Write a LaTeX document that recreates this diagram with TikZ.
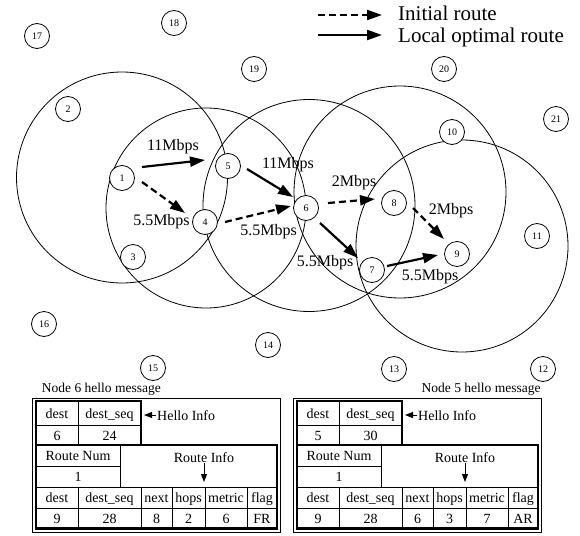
\documentclass[tikz,border=0pt]{standalone}
\usepackage{fontspec}
\setmainfont{Liberation Serif}
\usetikzlibrary{arrows.meta,calc}

\tikzset{
  host/.style={circle,draw,fill=white,line width=0.8pt,minimum size=25pt,inner sep=0pt,font=\fontsize{10}{10}\selectfont},
  rangering/.style={line width=0.8pt},
  optroute/.style={line width=2.2pt,-{Triangle[length=15pt,width=10pt]}},
  initroute/.style={optroute,dash pattern=on 7pt off 4pt},
  rate/.style={font=\fontsize{16}{16}\selectfont,inner sep=0pt},
  legendtext/.style={font=\fontsize{21}{21}\selectfont,inner sep=0pt,anchor=base west},
  cell/.style={font=\fontsize{14}{14}\selectfont,inner sep=0pt,anchor=base},
  thickbox/.style={line width=2.5pt},
  thinline/.style={line width=0.8pt},
  pointer/.style={line width=1pt,-{Triangle[length=8pt,width=6pt]}}
}

\begin{document}
\begin{tikzpicture}[x=1pt,y=-1pt]
\useasboundingbox (0,0) rectangle (580,535);

% transmission ranges
\draw[rangering] (122,177.5) circle (105.5pt);
\draw[rangering] (206,208) circle (100pt);
\draw[rangering] (309,205.5) circle (106pt);
\draw[rangering] (400,192) circle (106pt);
\draw[rangering] (462,246) circle (106pt);

% hosts
\node[host] (n1) at (122,178) {1};
\node[host] (n2) at (68,109) {2};
\node[host] (n3) at (133,257) {3};
\node[host] (n4) at (205,222) {4};
\node[host] (n5) at (228,166) {5};
\node[host] (n6) at (306,208) {6};
\node[host] (n7) at (372,270) {7};
\node[host] (n8) at (394,203) {8};
\node[host] (n9) at (457,254) {9};
\node[host] (n10) at (452,132) {10};
\node[host] (n11) at (537,236) {11};
\node[host] (n12) at (543,369) {12};
\node[host] (n13) at (394,369) {13};
\node[host] (n14) at (268,345) {14};
\node[host] (n15) at (153,368) {15};
\node[host] (n16) at (44,324) {16};
\node[host] (n17) at (37,36) {17};
\node[host] (n18) at (174,23) {18};
\node[host] (n19) at (254,69) {19};
\node[host] (n20) at (444,69) {20};
\node[host] (n21) at (556,119) {21};

% routes
\draw[optroute] ($(n1)+(20,-11)$) -- ($(n5)+(-23,-6)$);
\draw[initroute] ($(n1)+(20,4)$) -- ($(n4)+(-20,-9)$);
\draw[optroute] ($(n5)+(19,3)$) -- ($(n6)+(-13,-11)$);
\draw[initroute] ($(n4)+(20,0)$) -- ($(n6)+(-15,-2)$);
\draw[initroute] ($(n6)+(22,-5)$) -- ($(n8)+(-19,-4)$);
\draw[optroute] ($(n6)+(14,15)$) -- ($(n7)+(-14,-12)$);
\draw[initroute] ($(n8)+(19,5)$) -- ($(n9)+(-13,-15)$);
\draw[optroute] ($(n7)+(15,-4)$) -- ($(n9)+(-19,1)$);

\node[rate] (r15) at (173,147) {11Mbps};
\node[rate] (r14) at (161.5,222) {5.5Mbps};
\node[rate] (r56) at (288,165) {11Mbps};
\node[rate] (r46) at (268.5,232) {5.5Mbps};
\node[rate] (r68) at (354,183) {2Mbps};
\node[rate] (r67) at (325,263) {5.5Mbps};
\node[rate] (r89) at (451,211) {2Mbps};
\node[rate] (r79) at (430,277) {5.5Mbps};

% legend
\node[legendtext] (init) at (398,21) {Initial route};
\node[legendtext] (opt) at (398,42) {Local optimal route};
\coordinate (lg1) at (318,15);
\coordinate (lg2) at (318,35);
\draw[initroute] (lg1) -- (382,15);
\draw[optroute] (lg2) -- (382,35);

% hello messages
\node[cell,anchor=base west,font=\fontsize{13.5}{13.5}\selectfont] (capa) at (41.7,392.5) {Node 6 hello message};
\node[cell,anchor=base east,font=\fontsize{13.5}{13.5}\selectfont] (capb) at (540.7,392.5) {Node 5 hello message};

\foreach \ox/\tab/\nd/\sq/\nx/\hp/\mt/\fl in {0/a/6/24/8/2/6/FR,261/b/5/30/6/3/7/AR}{
\begin{scope}[xshift=\ox]
\draw[thinline] (32.7,398) rectangle (280.7,532.5);
\draw[thinline] (36,425) -- (141,425);
\draw[thinline] (78,401) -- (78,445);
\draw[thinline] (36,466) -- (120,466);
\draw[thinline] (120,445) -- (120,487);
\draw[thinline] (36,487) -- (277,487);
\draw[thinline] (36,508) -- (277,508);
\foreach \cx in {78,141,172,205,247} \draw[thinline] (\cx,487) -- (\cx,528.5);
\draw[thickbox] (36,401) rectangle (141,445);
\draw[thickbox] (36,445) rectangle (277,528.5);

\node[cell] (\tab-hd) at (57,418) {dest};
\node[cell] (\tab-hs) at (109.5,418) {dest\_seq};
\node[cell] (\tab-vd) at (57,440) {\nd};
\node[cell] (\tab-vs) at (109.5,440) {\sq};
\node[cell] (\tab-rn) at (78,460.5) {Route Num};
\node[cell] (\tab-rv) at (78,481.5) {1};
\node[cell] (\tab-ri) at (204,462) {Route Info};
\node[cell,anchor=base west] (\tab-hi) at (157,420) {Hello Info};
\coordinate (\tab-hb) at (142,415);
\coordinate (\tab-rb) at (204,487);
\draw[pointer,shorten <=1pt,shorten >=2pt] (\tab-hi.west|-\tab-hb) -- (\tab-hb);
\draw[pointer,shorten <=1pt,shorten >=5pt] (\tab-ri.south) -- (\tab-rb);

\foreach \cx/\hd/\dv [count=\k] in {57/dest/9,109.5/dest\_seq/28,156.5/next/\nx,188.5/hops/\hp,226/metric/\mt,262/flag/\fl}{
  \node[cell] (\tab-h\k) at (\cx,502.5) {\hd};
  \node[cell] (\tab-d\k) at (\cx,523) {\dv};
}
\end{scope}
}

\end{tikzpicture}
\end{document}
